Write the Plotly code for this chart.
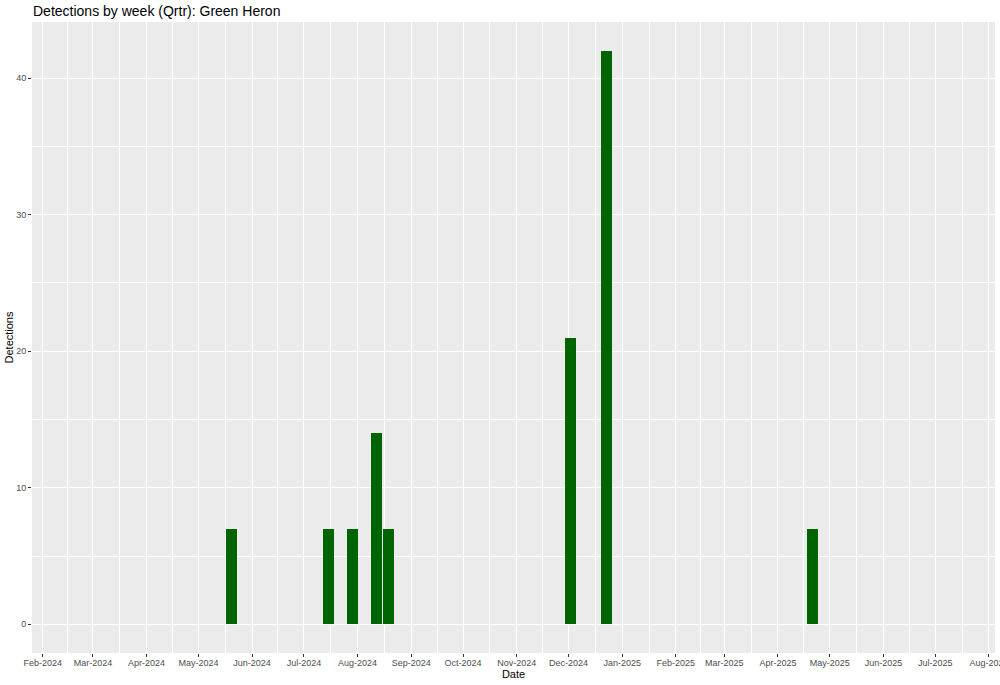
import plotly.graph_objects as go
import pandas as pd

# Data (week start dates, Monday)
week_dates = ["2024-05-20", "2024-07-15", "2024-07-29", "2024-08-12", "2024-08-19",
              "2024-12-02", "2024-12-23", "2025-04-21"]
detections = [7, 7, 7, 14, 7, 21, 42, 7]

month_ticks = pd.date_range("2024-02-01", "2025-08-01", freq="MS")
month_labels = [d.strftime("%b-%Y") for d in month_ticks]
y_ticks = [0, 10, 20, 30, 40]

# minor gridlines at midpoints between month breaks (ggplot style)
minor_x = [month_ticks[i] + (month_ticks[i + 1] - month_ticks[i]) / 2 for i in range(len(month_ticks) - 1)]
minor_x = [month_ticks[0] - (month_ticks[1] - month_ticks[0]) / 2] + minor_x
tick_strs = [d.strftime("%Y-%m-%d") for d in month_ticks]
minor_strs = [d.strftime("%Y-%m-%d %H:%M") for d in minor_x]

bar_width_ms = 0.9 * 7 * 24 * 3600 * 1000

fig = go.Figure(go.Bar(
    x=week_dates,
    y=detections,
    width=bar_width_ms,
    marker=dict(color="#006400", line=dict(width=0)),
))

fig.update_layout(
    width=1000, height=685,
    margin=dict(l=32, r=5, t=22, b=32, autoexpand=False),
    paper_bgcolor="white",
    plot_bgcolor="#EBEBEB",
    font=dict(family="Liberation Sans, Arial, sans-serif", color="black"),
    title=dict(text="Detections by week (Qrtr): Green Heron", x=0.033, xanchor="left",
               y=1 - 6 / 685, yanchor="top", font=dict(size=14, color="black")),
    showlegend=False,
    bargap=0,
)

fig.update_xaxes(
    type="date",
    range=["2024-01-25 19:00", "2025-08-04 12:00"],
    tickmode="array",
    tickvals=tick_strs,
    ticktext=month_labels,
    tickfont=dict(size=9, color="#4D4D4D"),
    ticks="outside", ticklen=3, tickcolor="#333333", tickwidth=1,
    ticklabeloverflow="allow", ticklabelstandoff=-2,
    showgrid=True, gridcolor="white", gridwidth=1.1,
    minor=dict(tickmode="array", tickvals=minor_strs, showgrid=True, gridcolor="white", gridwidth=0.5, ticks=""),
    zeroline=False, showline=False, automargin=False,
    title=dict(text="Date", font=dict(size=11, color="black"), standoff=0),
)

fig.update_yaxes(
    range=[-2.1, 44.1],
    tickmode="array",
    tickvals=y_ticks,
    tickfont=dict(size=9, color="#4D4D4D"),
    ticks="outside", ticklen=3, tickcolor="#333333", tickwidth=1,
    showgrid=True, gridcolor="white", gridwidth=1.1,
    minor=dict(tickmode="array", tickvals=[5, 15, 25, 35], showgrid=True, gridcolor="white", gridwidth=0.5, ticks=""),
    zeroline=False, showline=False, automargin=False,
    title=dict(text="Detections", font=dict(size=11, color="black"), standoff=0),
)

fig.write_html("out.html", config={"displayModeBar": False},
               post_script="document.body.style.margin='0';document.body.style.overflow='hidden';")
